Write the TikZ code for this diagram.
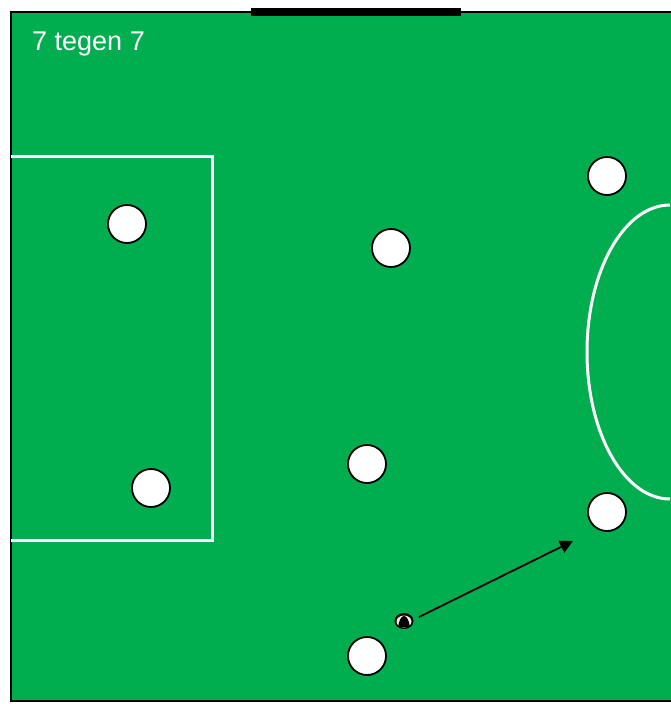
\documentclass[tikz,border=0pt]{standalone}
\usepackage{fontspec}
\setmainfont{Liberation Sans}
\usetikzlibrary{arrows.meta,shapes.geometric}
\definecolor{pitch}{RGB}{0,174,80}
\begin{document}
\begin{tikzpicture}[x=1pt,y=-1pt,
  player/.style={circle,draw=black,line width=1.8pt,fill=white,minimum size=38pt,inner sep=0pt},
  ballnode/.style={ellipse,minimum width=19pt,minimum height=16pt,inner sep=0pt},
  whiteline/.style={draw=white,line width=3pt},
  pass/.style={line width=1.8pt,-{Triangle[length=13pt,width=13pt]}}]
\useasboundingbox (0,0) rectangle (670,704);
% pitch
\fill[pitch] (11,12) rectangle (672,701);
\draw[line width=2pt] (672,12) -- (11,12) -- (11,701) -- (672,701);
% goal
\fill[black] (251,8) rectangle (461,16);
% penalty area
\draw[whiteline] (11,156.5) -- (212.5,156.5) -- (212.5,540.5) -- (11,540.5);
% centre circle
\begin{scope}
\clip (0,0) rectangle (670,704);
\draw[whiteline] (670,352) ellipse [x radius=83, y radius=147];
\end{scope}
% label
\node[anchor=base west,text=white,font=\fontsize{27}{30}\selectfont,inner sep=0pt] (lbl) at (32,50) {7 tegen 7};
% players
\node[player] (p1) at (127,224) {};
\node[player] (p2) at (391,248) {};
\node[player] (p3) at (607,176) {};
\node[player] (p4) at (151,488) {};
\node[player] (p5) at (367,464) {};
\node[player] (p6) at (607,512) {};
\node[player] (p7) at (367,656) {};
% ball
\node[ballnode] (ball) at (404,621) {};
\fill[black] (404,621) ellipse [x radius=9.5, y radius=8];
\fill[white!85!gray] (404,621.5) ellipse [x radius=7.5, y radius=6];
\fill[black] (398,627) .. controls (399,621) and (401,616) .. (404,616)
  .. controls (407,616) and (409,621) .. (410,627) -- cycle;
\coordinate (src) at (419,617);
\coordinate (tgt) at (573,541);
\draw[pass] (src) -- (tgt);
\end{tikzpicture}
\end{document}
